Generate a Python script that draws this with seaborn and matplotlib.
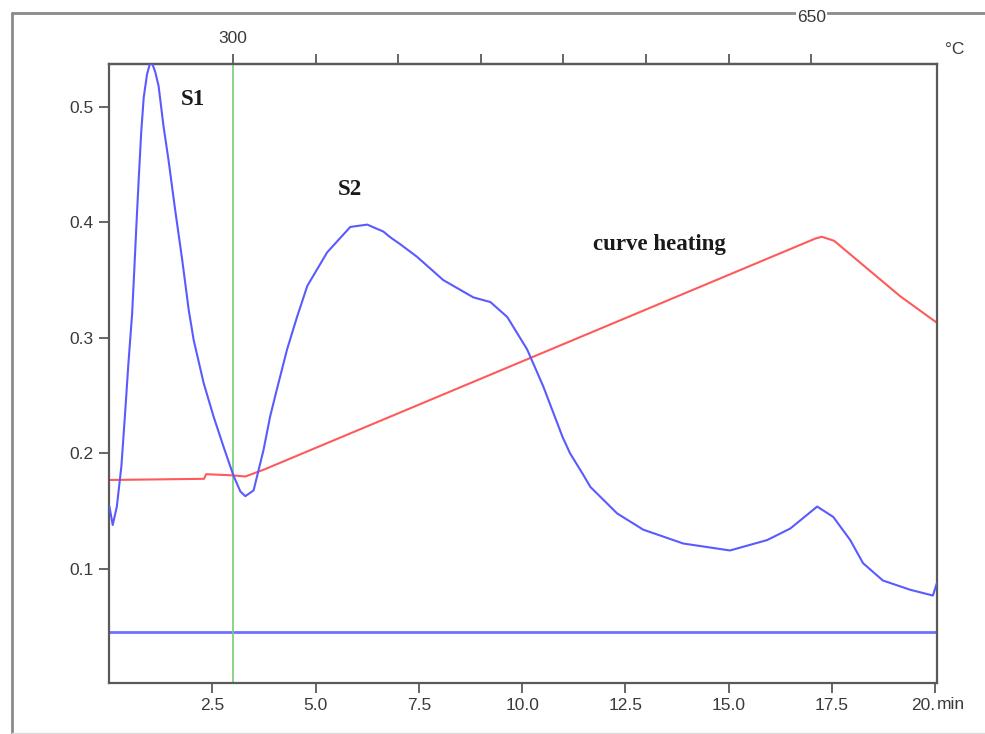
import matplotlib
matplotlib.use("Agg")
import matplotlib.pyplot as plt
import matplotlib.transforms as mtransforms
from matplotlib.lines import Line2D
import seaborn as sns
import pandas as pd

# ---- data ----
time_blue = [0.01, 0.09, 0.19, 0.30, 0.39, 0.47, 0.56, 0.60, 0.66, 0.72, 0.78, 0.84, 0.92,
             0.98, 1.04, 1.12, 1.20, 1.32, 1.44, 1.60, 1.77, 1.93, 2.05, 2.29, 2.53, 2.77,
             3.01, 3.18, 3.30, 3.50, 3.74, 3.90, 4.06, 4.31, 4.55, 4.80, 5.28, 5.84, 6.25,
             6.64, 6.81, 7.05, 7.46, 8.09, 8.82, 9.23, 9.64, 10.12, 10.51, 10.98, 11.16,
             11.47, 11.65, 12.30, 12.93, 13.90, 15.03, 15.93, 16.49, 17.14, 17.53, 17.94,
             18.25, 18.73, 19.39, 19.94, 20.04]
abs_blue = [0.154, 0.138, 0.154, 0.189, 0.235, 0.278, 0.321, 0.350, 0.395, 0.438, 0.478,
            0.508, 0.528, 0.536, 0.538, 0.530, 0.518, 0.483, 0.454, 0.411, 0.368, 0.324,
            0.298, 0.261, 0.232, 0.206, 0.181, 0.167, 0.163, 0.168, 0.203, 0.232, 0.255,
            0.290, 0.318, 0.345, 0.374, 0.396, 0.398, 0.392, 0.387, 0.381, 0.370, 0.350,
            0.335, 0.331, 0.318, 0.290, 0.258, 0.214, 0.200, 0.182, 0.171, 0.148, 0.134,
            0.122, 0.116, 0.125, 0.135, 0.154, 0.145, 0.125, 0.105, 0.090, 0.082, 0.077,
            0.088]

time_red = [0.03, 2.30, 2.35, 3.00, 3.30, 3.75, 17.10, 17.25, 17.55, 19.15, 20.04]
val_red = [0.177, 0.178, 0.182, 0.181, 0.180, 0.186, 0.386, 0.3875, 0.384, 0.336, 0.313]

baseline_value = 0.0455
marker_time = 3.0

x_ticks = [2.5, 5.0, 7.5, 10.0, 12.5, 15.0, 17.5, 20.0]
x_tick_labels = ["2.5", "5.0", "7.5", "10.0", "12.5", "15.0", "17.5", "20."]
y_ticks = [0.1, 0.2, 0.3, 0.4, 0.5]
y_tick_labels = ["0.1", "0.2", "0.3", "0.4", "0.5"]
temp_ticks = [300, 350, 400, 450, 500, 550, 600, 650]
temp_tick_labels = ["300", "", "", "", "", "", "", ""]
temp_top_label = "650"
temp_top_value = 650

annotations = [("S1", 2.04, 0.506), ("S2", 5.82, 0.428), ("curve heating", 13.32, 0.381)]

# ---- style ----
sns.set_theme(style="white")
plt.rcParams["font.family"] = ["Liberation Sans", "DejaVu Sans"]

fig = plt.figure(figsize=(9.85, 7.34), dpi=100)
ax = fig.add_axes([109 / 985, 1 - 683 / 734, (937 - 109) / 985, (683 - 64) / 734])

df_blue = pd.DataFrame({"t": time_blue, "v": abs_blue})
df_red = pd.DataFrame({"t": time_red, "v": val_red})

ax.axhline(baseline_value, color="#7070ff", lw=2.0, zorder=1)
ax.axvline(marker_time, color="#77cc77", lw=1.2, zorder=1)
sns.lineplot(data=df_red, x="t", y="v", ax=ax, color="#ff5a5a", lw=1.5, zorder=2)
sns.lineplot(data=df_blue, x="t", y="v", ax=ax, color="#5a5aff", lw=1.5, zorder=3)

ax.set_xlim(0, 20.04)
ax.set_ylim(0.0013, 0.537)
ax.set_xlabel("")
ax.set_ylabel("")

spine_col = "#5a5a5a"
for s in ax.spines.values():
    s.set_color(spine_col)
    s.set_linewidth(1.6)
    s.set_visible(True)

ax.set_xticks(x_ticks)
ax.set_xticklabels(x_tick_labels)
ax.set_yticks(y_ticks)
ax.set_yticklabels(y_tick_labels)
ax.tick_params(axis="both", direction="out", length=7, width=1.3, color=spine_col,
               labelsize=12.5, labelcolor="#3a3a3a", bottom=True, left=True, pad=4)
ax.get_xticklabels()[-1].set_horizontalalignment("right")
ax.text(1.0, -0.0345, "min", transform=ax.transAxes, ha="left", va="center",
        fontsize=12.5, color="#3a3a3a")

# top temperature axis (300 °C at 3 min, 25 °C/min)
to_temp = lambda m: 225 + 25 * m
to_min = lambda T: (T - 225) / 25
secax = ax.secondary_xaxis("top", functions=(to_temp, to_min))
secax.set_xticks(temp_ticks)
secax.set_xticklabels(temp_tick_labels)
secax.tick_params(direction="out", length=7, width=1.3, color=spine_col,
                  labelsize=12.5, labelcolor="#3a3a3a", pad=6)
secax.spines["top"].set_color(spine_col)
secax.spines["top"].set_linewidth(1.6)

trans = mtransforms.blended_transform_factory(ax.transData, fig.transFigure)
ax.text(to_min(temp_top_value), 1 - 17 / 734, temp_top_label, transform=trans, ha="center",
        va="center", fontsize=12.5, color="#3a3a3a",
        bbox=dict(facecolor="white", edgecolor="none", pad=1.0), zorder=10)
ax.text(1.01, 1 - 50 / 734, "°C", transform=mtransforms.blended_transform_factory(ax.transAxes, fig.transFigure),
        ha="left", va="center", fontsize=12.5, color="#3a3a3a")

for txt, xt, yt in annotations:
    ax.text(xt, yt, txt, ha="center", va="center", fontsize=16.5, fontweight="bold",
            family="Liberation Serif", color="#1a1a1a")

# outer frame
frame_col = "#8a8a8a"
fig.add_artist(Line2D([12 / 985, 12 / 985], [1 / 734, 1 - 13 / 734], transform=fig.transFigure,
                      color=frame_col, lw=2.0))
fig.add_artist(Line2D([12 / 985, 1.0], [1 - 13 / 734, 1 - 13 / 734], transform=fig.transFigure,
                      color=frame_col, lw=2.0, zorder=0))
fig.add_artist(Line2D([12 / 985, 1.0], [1 / 734, 1 / 734], transform=fig.transFigure,
                      color="#dddddd", lw=1.0))

fig.savefig("out.png", dpi=100)
